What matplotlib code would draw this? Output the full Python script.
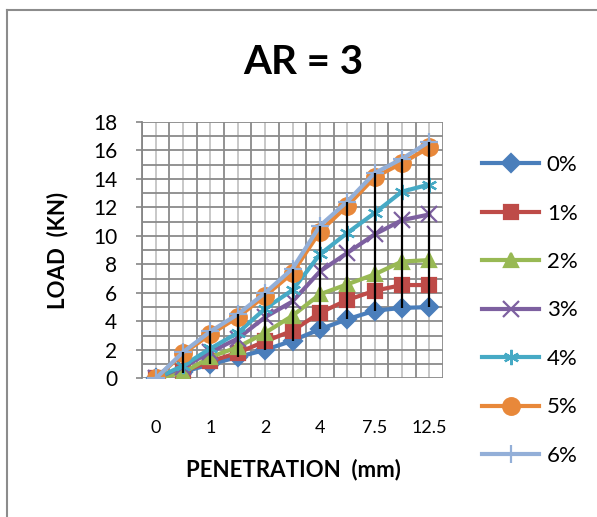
import matplotlib
matplotlib.use('Agg')
import matplotlib.pyplot as plt
from matplotlib.lines import Line2D
from matplotlib.ticker import MultipleLocator, FixedLocator
import numpy as np

plt.rcParams['font.family'] = ['Lato', 'DejaVu Sans']

# penetration categories (mm), only every other one is labelled
cats = ['0', '0.5', '1', '1.5', '2', '2.5', '4', '5', '7.5', '10', '12.5']

# load (kN) for each fibre content
p0 = [0, 0.45, 1.0, 1.5, 2.0, 2.65, 3.45, 4.15, 4.75, 4.95, 5.0]
p1 = [0, 0.5, 1.2, 1.8, 2.6, 3.35, 4.6, 5.5, 6.15, 6.55, 6.55]
p2 = [0, 0.4, 1.5, 2.2, 3.2, 4.4, 5.9, 6.6, 7.3, 8.2, 8.3]
p3 = [0, 0.8, 1.85, 2.8, 4.3, 5.4, 7.5, 8.8, 10.1, 11.1, 11.5]
p4 = [0, 0.9, 2.1, 3.2, 4.9, 6.2, 8.7, 10.2, 11.6, 13.1, 13.6]
p5 = [0, 1.75, 3.1, 4.3, 5.8, 7.4, 10.3, 12.1, 14.1, 15.1, 16.2]
p6 = [0, 1.85, 3.3, 4.5, 6.0, 7.7, 10.7, 12.4, 14.4, 15.4, 16.6]

labels = ['0%', '1%', '2%', '3%', '4%', '5%', '6%']
series = [p0, p1, p2, p3, p4, p5, p6]
colors = ['#4A7EBB', '#BE4B48', '#98B954', '#7D60A0', '#46AAC5', '#E8883A', '#93AFD8']
markers = ['D', 's', '^', 'x', (6, 2, 0), 'o', '+']
msizes = [9, 10, 10, 11, 11, 12, 13]

fig = plt.figure(figsize=(5.97, 5.17), dpi=100)
ax = fig.add_axes([0.238, 0.268, 0.504, 0.4965])

x = np.arange(len(cats))
for s, lab, c, m, ms in zip(series, labels, colors, markers, msizes):
    ax.plot(x, s, color=c, lw=3, marker=m, ms=ms, mfc=c, mec=c, mew=1.6,
            label=lab, zorder=3)

# high-low lines
arr = np.array(series)
ax.vlines(x[1:], arr.min(axis=0)[1:], arr.max(axis=0)[1:], color='black', lw=1.6, zorder=4)

ax.set_xlim(-0.5, len(cats) - 0.5)
ax.set_ylim(0, 18)
ax.xaxis.set_major_locator(FixedLocator(x))
ax.set_xticklabels([c if i % 2 == 0 else '' for i, c in enumerate(cats)], fontsize=13)
ax.xaxis.set_minor_locator(FixedLocator(np.arange(-0.5, len(cats), 1)))
ax.tick_params(axis='x', which='both', length=0, pad=30)
ax.yaxis.set_major_locator(MultipleLocator(2))
ax.yaxis.set_minor_locator(MultipleLocator(1))
ax.tick_params(axis='y', which='major', length=4, width=1.2, color='#868686',
               labelsize=15, pad=14)
ax.tick_params(axis='y', which='minor', length=0)

ax.grid(axis='x', which='major', color='#c4c4c4', lw=1.3, zorder=0)
ax.grid(axis='x', which='minor', color='#8a8a8a', lw=1.3, zorder=0)
ax.grid(axis='y', which='both', color='#8a8a8a', lw=1.3, zorder=0)
ax.set_axisbelow(True)
for side in ['top', 'right', 'bottom']:
    ax.spines[side].set_visible(False)
ax.spines['left'].set_color('#868686')
ax.spines['left'].set_linewidth(1.3)

fig.text(0.508, 0.88, 'AR = 3', ha='center', va='center', fontsize=29, fontweight='bold')
fig.text(0.491, 0.091, 'PENETRATION  (mm)', ha='center', va='center', fontsize=16, fontweight='bold')
fig.text(0.097, 0.515, 'LOAD  (KN)', ha='center', va='center', rotation=90,
         fontsize=16, fontweight='bold')

leg = fig.legend(loc='upper left', bbox_to_anchor=(0.808, 0.700), frameon=False,
                 fontsize=16, handlelength=2.55, handletextpad=0.35, labelspacing=1.28,
                 borderaxespad=0, borderpad=0)

# chart area border
fig.add_artist(Line2D([0.011, 0.011], [0, 0.981], transform=fig.transFigure, color='#8c8c8c', lw=1.5))
fig.add_artist(Line2D([0.011, 1.0], [0.981, 0.981], transform=fig.transFigure, color='#8c8c8c', lw=1.5))

fig.savefig('out.png', dpi=100)
